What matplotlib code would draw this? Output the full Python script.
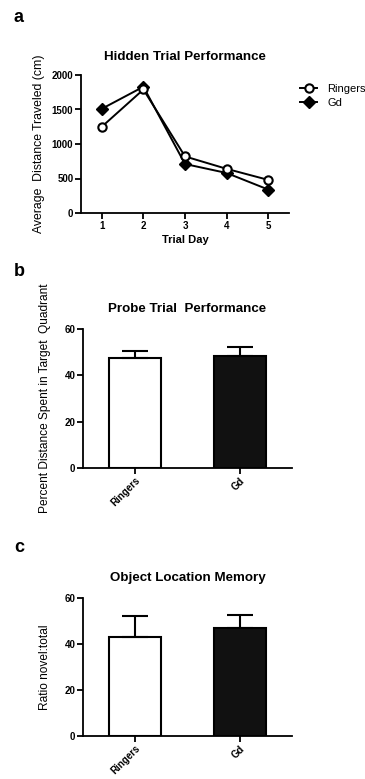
import numpy as np
import matplotlib.pyplot as plt

plt.rcParams['font.family'] = ['Liberation Sans', 'DejaVu Sans']

# panel a data
days = [1, 2, 3, 4, 5]
ringers_dist = [1250, 1790, 820, 640, 480]
gd_dist = [1510, 1830, 710, 580, 340]

# panel b / c data
groups = ['Ringers', 'Gd']
probe_mean = [47.5, 48.2]
probe_sem = [2.8, 4.1]
olm_mean = [43.2, 46.8]
olm_sem = [9.0, 5.7]

W, H = 365, 779
fig = plt.figure(figsize=(W/100, H/100), dpi=100)

def box(l, r, t, b):
    return [l/W, 1-b/H, (r-l)/W, (b-t)/H]

def style(ax):
    for s in ['top', 'right']:
        ax.spines[s].set_visible(False)
    for s in ['left', 'bottom']:
        ax.spines[s].set_linewidth(1.3)
    ax.tick_params(width=1.3, length=4, labelsize=7, pad=1.5)
    for lab in ax.get_xticklabels() + ax.get_yticklabels():
        lab.set_fontweight('bold')

# a
ax = fig.add_axes(box(81, 289, 75, 213))
ax.plot(days, ringers_dist, '-o', color='black', mfc='white', mec='black',
        ms=6, mew=1.5, lw=1.4, label='Ringers', zorder=3)
ax.plot(days, gd_dist, '-D', color='black', ms=6, lw=1.4, label='Gd', zorder=2)
ax.set_xlim(0.5, 5.5)
ax.set_ylim(0, 2000)
ax.set_xticks(days)
ax.set_yticks([0, 500, 1000, 1500, 2000])
ax.set_title('Hidden Trial Performance', fontsize=9.6, fontweight='bold', pad=11)
ax.set_xlabel('Trial Day', fontsize=8, fontweight='bold', labelpad=3)
ax.set_ylabel('Average  Distance Traveled (cm)', fontsize=8.8, labelpad=5)
style(ax)
ax.legend(loc='upper left', bbox_to_anchor=(1.03, 0.97), frameon=False,
          fontsize=8, handlelength=1.6, handletextpad=0.9, borderaxespad=0,
          labelspacing=0.4)
fig.text(14/W, 1-17/H, 'a', fontsize=13, fontweight='bold', va='center')

def bars(box_px, means, sems, title, ylabel, letter, ly):
    ax = fig.add_axes(box(*box_px))
    x = np.arange(len(groups))
    ax.bar(x, means, width=0.5, color=['white', '#111111'], edgecolor='black',
           linewidth=1.5, zorder=2)
    ax.errorbar(x, means, yerr=[np.zeros(len(sems)), sems], fmt='none',
                ecolor='black', elinewidth=1.5, capsize=9.5, capthick=1.5, zorder=3)
    ax.set_xlim(-0.5, 1.5)
    ax.set_ylim(0, 60)
    ax.set_yticks([0, 20, 40, 60])
    ax.set_xticks(x)
    ax.set_xticklabels(groups, rotation=45, ha='right', rotation_mode='anchor')
    ax.set_title(title, fontsize=9.6, fontweight='bold', pad=12)
    ax.set_ylabel(ylabel, fontsize=8.6, labelpad=10)
    style(ax)
    fig.text(14/W, 1-ly/H, letter, fontsize=13, fontweight='bold', va='center')

bars((83, 292, 329, 468), probe_mean, probe_sem, 'Probe Trial  Performance',
     'Percent Distance Spent in Target  Quadrant', 'b', 272)
bars((83, 292, 598, 736), olm_mean, olm_sem, 'Object Location Memory',
     'Ratio novel:total', 'c', 548)

fig.savefig('out.png', dpi=100)
